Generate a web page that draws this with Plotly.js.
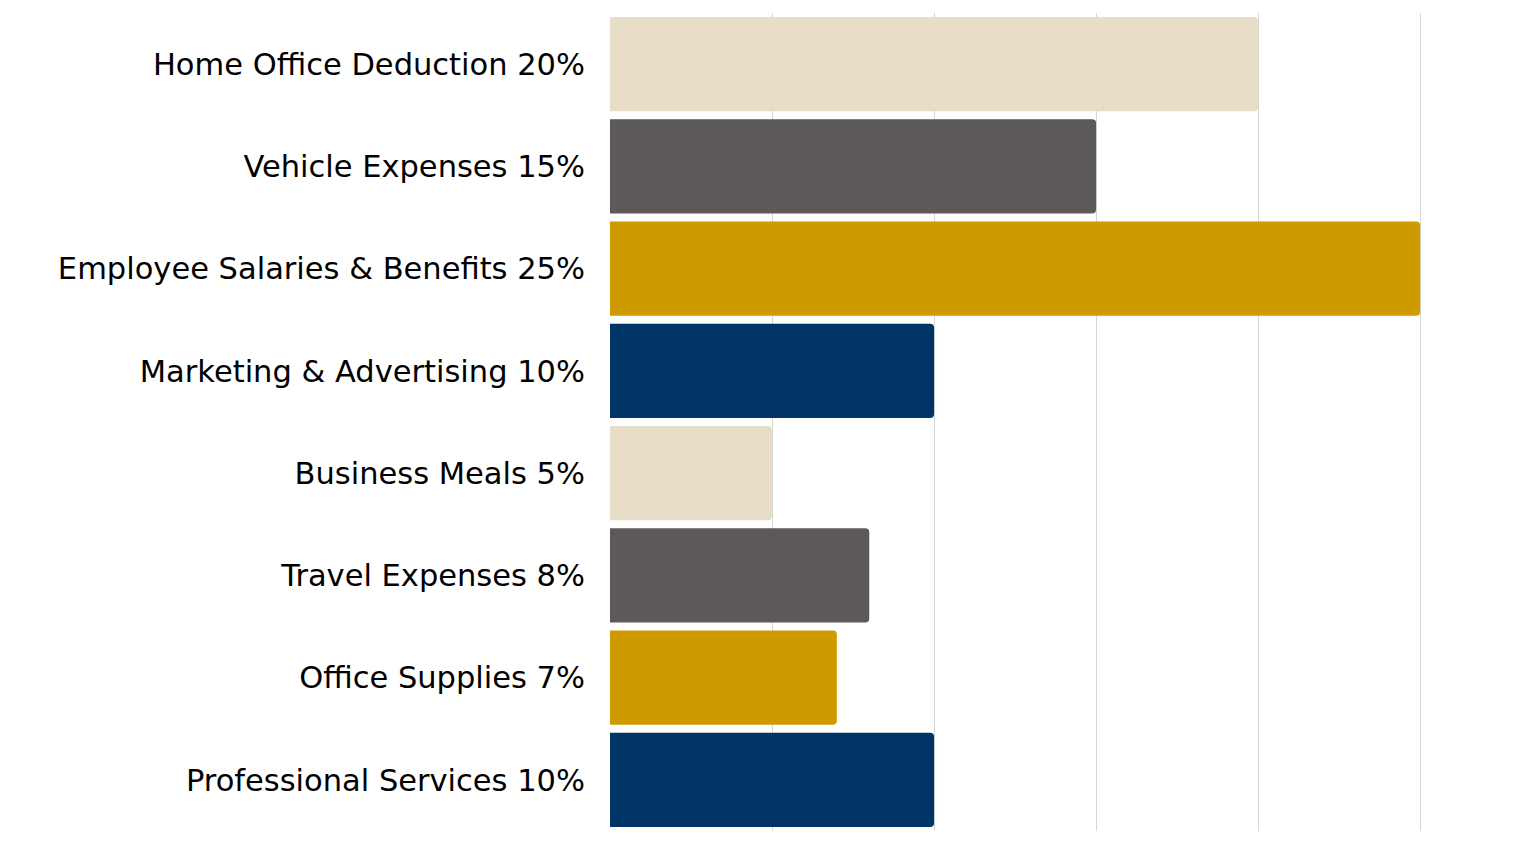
<!DOCTYPE html>
<html>
<head>
<meta charset="utf-8">
<script src="https://cdn.plot.ly/plotly-3.0.1.min.js"></script>
<style>
  html, body { margin: 0; padding: 0; background: #fff; }
  #chart { width: 1519px; height: 841px; }
</style>
</head>
<body>
<div id="chart"></div>
<script>
// expense categories, top to bottom
const categories = [
  "Home Office Deduction",
  "Vehicle Expenses",
  "Employee Salaries & Benefits",
  "Marketing & Advertising",
  "Business Meals",
  "Travel Expenses",
  "Office Supplies",
  "Professional Services"
];
const shares = [20, 15, 25, 10, 5, 8, 7, 10];
const barColors = ["#E8DEC8", "#5E5959", "#CF9A00", "#003366", "#E8DEC8", "#5E5959", "#CF9A00", "#003366"];

const labels = categories.map((c, i) => c + " " + shares[i] + "%");

const trace = {
  type: "bar",
  orientation: "h",
  x: shares,
  y: labels,
  marker: { color: barColors, cornerradius: 4 },
  hoverinfo: "x+y"
};

const layout = {
  width: 1519,
  height: 841,
  margin: { l: 610, r: 93, t: 13, b: 10 },
  paper_bgcolor: "#fff",
  plot_bgcolor: "#fff",
  bargap: 0.08,
  showlegend: false,
  font: { family: "DejaVu Sans, sans-serif", color: "#000" },
  xaxis: {
    range: [0, 25.18], // a bit past 25 so the last gridline shows
    dtick: 5,
    showticklabels: false,
    showgrid: true,
    gridcolor: "#d6d6d6",
    gridwidth: 1,
    zeroline: false,
    fixedrange: true
  },
  yaxis: {
    autorange: "reversed",
    tickfont: { size: 30.5, color: "#000" },
    ticklabelstandoff: 24,
    showgrid: false,
    zeroline: false,
    fixedrange: true
  }
};

Plotly.newPlot("chart", [trace], layout, { displayModeBar: false, staticPlot: true });
</script>
</body>
</html>
